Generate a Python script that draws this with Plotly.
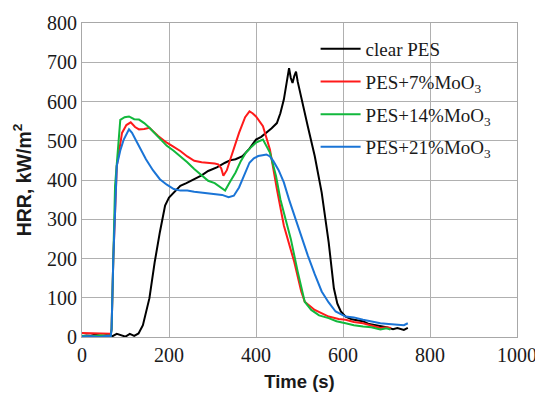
import plotly.graph_objects as go

# clear PES
t_clear = [0, 10, 20, 30, 40, 50, 60, 70, 80, 90, 100, 110, 120, 130, 140, 155, 167, 179, 185, 191, 200, 211, 220, 226, 240, 258, 275, 290, 310, 329, 340, 353, 369, 385, 400, 412, 424, 436, 448, 456, 464, 470, 476, 480, 484, 488, 492, 496, 504, 519, 535, 551, 567, 579, 587, 595, 606, 620, 635, 646, 660, 675, 686, 700, 715, 725, 740, 749]
v_clear = [2, 4, 3, 6, 4, 3, 6, 2, 8, 5, 1, 8, 3, 9, 30, 99, 190, 267, 300, 335, 355, 368, 378, 385, 392, 402, 412, 423, 432, 444, 450, 453, 461, 480, 503, 510, 520, 532, 545, 570, 605, 640, 685, 660, 647, 665, 676, 650, 613, 537, 461, 368, 242, 124, 85, 65, 52, 45, 42, 40, 33, 30, 27, 25, 20, 23, 18, 23]

# PES+7%MoO3
t_7 = [0, 20, 40, 60, 66, 68, 72, 80, 92, 102, 112, 122, 131, 143, 155, 175, 195, 210, 226, 242, 258, 275, 290, 305, 313, 320, 325, 333, 341, 361, 375, 385, 392, 400, 416, 432, 448, 464, 488, 504, 512, 535, 567, 590, 606, 625, 646, 665, 686, 701, 710]
v_7 = [10, 9, 8, 7, 8, 20, 200, 436, 520, 540, 547, 535, 529, 530, 533, 512, 495, 485, 474, 460, 449, 445, 444, 442, 440, 430, 411, 425, 453, 520, 560, 575, 570, 562, 537, 478, 377, 284, 191, 116, 90, 69, 52, 46, 44, 38, 35, 30, 23, 25, 23]

# PES+14%MoO3
t_14 = [0, 20, 40, 60, 66, 68, 72, 76, 88, 98, 108, 120, 131, 143, 155, 175, 195, 210, 226, 242, 258, 275, 290, 305, 313, 322, 329, 340, 353, 365, 377, 390, 400, 416, 432, 446, 456, 468, 480, 496, 512, 527, 545, 567, 585, 606, 625, 646, 665, 686, 700, 709]
v_14 = [3, 2, 4, 2, 3, 20, 200, 385, 553, 560, 562, 555, 554, 545, 533, 510, 487, 475, 461, 445, 428, 412, 398, 392, 385, 378, 373, 395, 419, 448, 470, 485, 495, 503, 470, 410, 351, 300, 250, 166, 90, 69, 55, 48, 40, 35, 30, 27, 25, 19, 22, 19]

# PES+21%MoO3
t_21 = [0, 20, 40, 60, 66, 68, 72, 80, 88, 96, 108, 115, 123, 135, 147, 163, 179, 195, 211, 226, 242, 258, 274, 290, 306, 322, 337, 349, 361, 373, 385, 395, 405, 415, 424, 432, 440, 452, 464, 476, 488, 503, 519, 535, 551, 567, 583, 606, 625, 646, 665, 686, 705, 725, 740, 749]
v_21 = [1, 2, 0, 3, 1, 20, 200, 436, 475, 503, 529, 520, 503, 478, 453, 425, 402, 388, 377, 373, 373, 370, 368, 366, 364, 362, 356, 360, 381, 415, 444, 455, 461, 463, 465, 460, 448, 425, 394, 350, 309, 260, 208, 160, 116, 88, 65, 52, 50, 44, 40, 35, 33, 31, 30, 35]

names = ["clear PES", "PES+7%MoO<sub>3</sub>", "PES+14%MoO<sub>3</sub>", "PES+21%MoO<sub>3</sub>"]
colors = ["#000000", "#ff1a1a", "#12b83c", "#1a74d6"]
series = [(t_clear, v_clear), (t_7, v_7), (t_14, v_14), (t_21, v_21)]

x_ticks = [0, 200, 400, 600, 800, 1000]
y_ticks = [0, 100, 200, 300, 400, 500, 600, 700, 800]

fig = go.Figure()
for i, ((t, v), n, c) in enumerate(zip(series, names, colors)):
    fig.add_trace(go.Scatter(x=t, y=v, mode="lines", name=n, legendgroup=f"g{i}",
                             line=dict(color=c, width=2)))

serif = "Liberation Serif, Times New Roman, serif"
sans = "Liberation Sans, Arial, sans-serif"
ink = "#1a1a1a"

fig.update_layout(
    width=535, height=391,
    margin=dict(l=74, r=26, t=15, b=62),
    paper_bgcolor="white", plot_bgcolor="white",
    showlegend=True,
    legend=dict(x=0.537, y=0.978, xanchor="left", yanchor="top",
                bgcolor="rgba(0,0,0,0)", borderwidth=0,
                font=dict(family=serif, size=19, color=ink),
                tracegroupgap=5, itemwidth=40),
    xaxis=dict(range=[0, 1000], tickvals=x_ticks, ticks="", showgrid=True, automargin=False,
               gridcolor="#b0b0b0", gridwidth=1.2, showline=True, linecolor="#a8a8a8",
               linewidth=1.2, mirror=True, zeroline=False,
               tickfont=dict(family=serif, size=20, color=ink),
               title=dict(text="<b>Time (s)</b>", font=dict(family=sans, size=18.5, color=ink), standoff=9)),
    yaxis=dict(range=[0, 800], tickvals=y_ticks, ticks="", showgrid=True, automargin=False,
               gridcolor="#b0b0b0", gridwidth=1.2, showline=True, linecolor="#a8a8a8",
               linewidth=1.2, mirror=True, zeroline=False,
               tickfont=dict(family=serif, size=20, color=ink),
               title=dict(text="<b>HRR, kW/m<sup>2</sup></b>", font=dict(family=sans, size=19.5, color=ink), standoff=10)),
)

fig.write_html("out.html")
